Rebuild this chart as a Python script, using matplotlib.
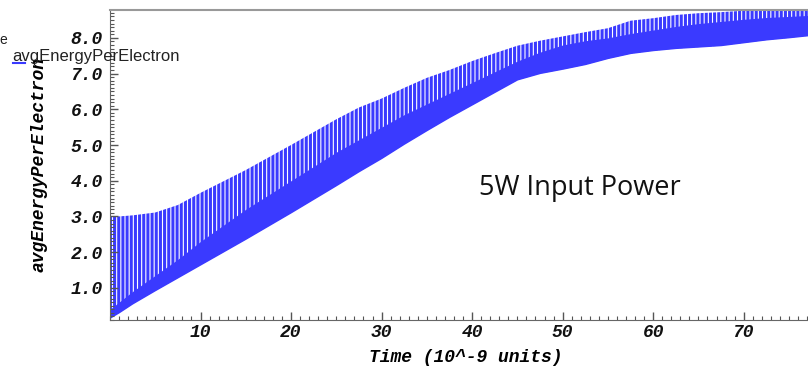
import matplotlib
matplotlib.use("Agg")
import matplotlib.pyplot as plt
from matplotlib.font_manager import FontProperties
from matplotlib.ticker import MultipleLocator, FormatStrFormatter

# envelope of the oscillating trace
time_knots = [0, 1, 2.5, 5, 7.5, 10, 12.5, 15, 17.5, 20, 22.5, 25, 27.5, 30,
              32.5, 35, 37.5, 40, 42.5, 45, 47.5, 50, 52.5, 55, 57.5, 60,
              62.5, 65, 67.5, 70, 72.5, 75, 78]
peak_top = [3.0, 3.0, 3.03, 3.11, 3.32, 3.66, 3.98, 4.3, 4.65, 5.0, 5.36,
            5.72, 6.05, 6.3, 6.6, 6.88, 7.1, 7.35, 7.57, 7.78, 7.92, 8.04,
            8.16, 8.27, 8.48, 8.55, 8.64, 8.69, 8.72, 8.76, 8.78, 8.8, 8.82]
solid_top = [0.4, 0.6, 0.9, 1.35, 1.8, 2.3, 2.75, 3.2, 3.6, 4.0, 4.4,
             4.8, 5.15, 5.5, 5.85, 6.15, 6.45, 6.75, 7.05, 7.35, 7.6, 7.8,
             7.92, 8.0, 8.12, 8.22, 8.32, 8.4, 8.46, 8.52, 8.57, 8.6, 8.64]
trough = [0.15, 0.3, 0.55, 0.92, 1.28, 1.64, 2.0, 2.36, 2.73, 3.1, 3.48,
          3.86, 4.25, 4.62, 5.02, 5.4, 5.77, 6.12, 6.47, 6.82, 7.0, 7.12,
          7.25, 7.42, 7.56, 7.64, 7.7, 7.74, 7.78, 7.86, 7.94, 8.0, 8.08]

series_name = "avgEnergyPerElectron"
x_title = "Time (10^-9 units)"
note = "5W Input Power"

BLUE = "#3a3aff"
W, H, DPI = 808, 371, 100

plt.rcParams["hatch.linewidth"] = 2.2
plt.rcParams["hatch.color"] = BLUE

fig = plt.figure(figsize=(W / DPI, H / DPI), dpi=DPI)
ax = fig.add_axes([110 / W, 1 - 320 / H, 1 - 110 / W + 0.01, 310 / H])

# solid lower part of the band, striped oscillation above it
ax.fill_between(time_knots, trough, solid_top, color=BLUE, lw=0)
ax.fill_between(time_knots, trough, peak_top, facecolor="none",
                edgecolor=BLUE, hatch="||||", lw=0)

ax.set_xlim(0, 78)
ax.set_ylim(0.1, 8.78)

mono = dict(family="Liberation Mono", weight="bold", style="italic", size=13)
ax.xaxis.set_minor_locator(MultipleLocator(1))
ax.yaxis.set_minor_locator(MultipleLocator(0.1))
ax.yaxis.set_major_formatter(FormatStrFormatter("%.1f"))
ax.set_xticks([10, 20, 30, 40, 50, 60, 70])
ax.set_yticks([1, 2, 3, 4, 5, 6, 7, 8])
for lab in ax.get_xticklabels() + ax.get_yticklabels():
    lab.set_fontproperties(FontProperties(**mono))

ax.tick_params(which="both", direction="in", color="#555555",
               top=False, right=False)
ax.tick_params(which="major", length=6, width=1)
ax.tick_params(which="minor", length=3, width=0.8)
ax.tick_params(axis="x", pad=3, colors="#111111")
ax.tick_params(axis="y", pad=5, colors="#111111")
ax.tick_params(which="both", color="#555555")

for side in ["left", "bottom"]:
    ax.spines[side].set_color("#666666")
ax.spines["top"].set_color("#999999")
ax.spines["top"].set_linewidth(1.5)
ax.spines["right"].set_visible(False)

ax.set_xlabel(x_title, fontdict=mono)
ax.xaxis.set_label_coords((462 - 110) / 698, -0.095)
ax.set_ylabel(series_name, fontdict=mono)
ax.yaxis.set_label_coords((48 - 110) / 698, (320 - 164) / 310)

# legend cut off at the left edge
fig.text(12 / W, 1 - 57 / H, series_name, family="Liberation Sans",
         size=12, va="center", ha="left", color="#222222")
fig.add_artist(plt.Line2D([13 / W, 25 / W], [1 - 63 / H, 1 - 63 / H],
                          color=BLUE, lw=1.5))
fig.text(7 / W, 1 - 40 / H, "e", family="Liberation Sans", size=10,
         va="center", ha="right", color="#222222")

ax.text((475 - 110) / 698, (320 - 188) / 310, note, transform=ax.transAxes,
        family="Open Sans", size=19.5, va="center", ha="left", color="#111111")

fig.savefig("out.png", dpi=DPI)
